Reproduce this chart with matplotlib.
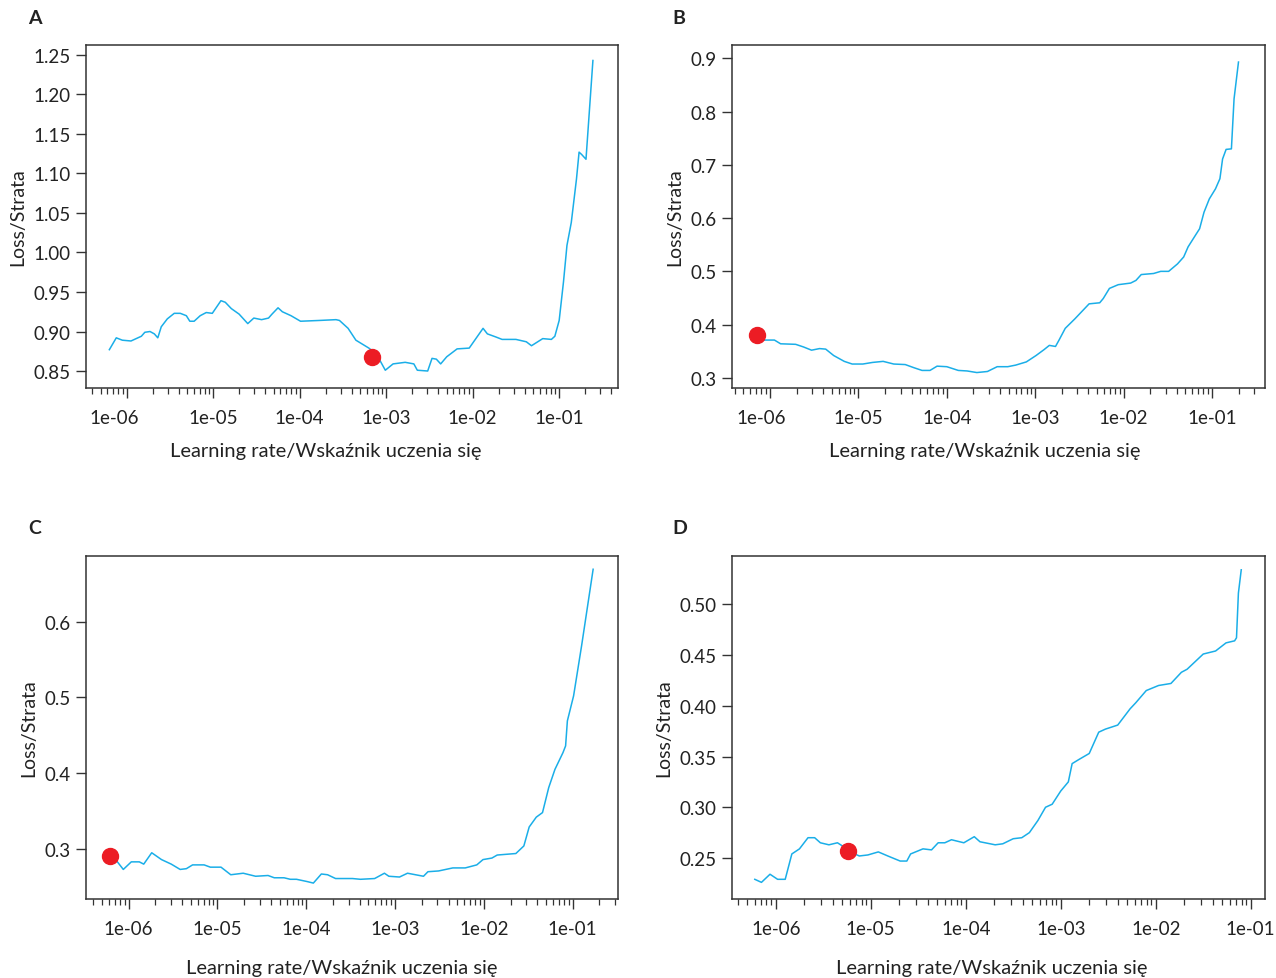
import numpy as np
import matplotlib
matplotlib.use("Agg")
import matplotlib.pyplot as plt
import matplotlib.transforms as mtransforms
from matplotlib.ticker import LogLocator, FixedLocator, FixedFormatter, NullFormatter

plt.rcParams['font.family'] = ['Lato', 'DejaVu Sans']

# Panel A: log10(learning rate) and loss
a_loglr = [-6.20, -6.12, -6.05, -5.95, -5.83, -5.79, -5.73, -5.68, -5.64, -5.60,
           -5.53, -5.45, -5.38, -5.31, -5.27, -5.22, -5.15, -5.08, -5.01, -4.96,
           -4.91, -4.86, -4.79, -4.70, -4.60, -4.53, -4.44, -4.36, -4.32, -4.25,
           -4.20, -4.10, -3.99, -3.77, -3.58, -3.54, -3.44, -3.35, -3.20, -3.11,
           -3.01, -2.92, -2.78, -2.68, -2.64, -2.52, -2.47, -2.42, -2.37, -2.30,
           -2.18, -2.04, -1.88, -1.83, -1.73, -1.66, -1.50, -1.38, -1.32, -1.19,
           -1.09, -1.05, -1.00, -0.95, -0.91, -0.86, -0.80, -0.77, -0.74, -0.69, -0.61]
a_loss = [0.877, 0.892, 0.889, 0.888, 0.894, 0.899, 0.900, 0.897, 0.892, 0.906,
          0.916, 0.923, 0.923, 0.920, 0.913, 0.913, 0.920, 0.924, 0.923, 0.931,
          0.939, 0.937, 0.929, 0.922, 0.910, 0.917, 0.915, 0.917, 0.922, 0.930,
          0.925, 0.920, 0.913, 0.914, 0.915, 0.914, 0.904, 0.889, 0.879, 0.871,
          0.851, 0.859, 0.861, 0.859, 0.851, 0.850, 0.866, 0.865, 0.859, 0.868,
          0.878, 0.879, 0.904, 0.897, 0.893, 0.890, 0.890, 0.887, 0.882, 0.891,
          0.890, 0.894, 0.914, 0.963, 1.009, 1.038, 1.093, 1.127, 1.124, 1.118, 1.243]
a_point = (-3.16, 0.868)

# Panel B
b_loglr = [-6.15, -6.11, -5.95, -5.88, -5.71, -5.62, -5.53, -5.44, -5.37, -5.28,
           -5.16, -5.07, -4.95, -4.84, -4.72, -4.60, -4.47, -4.37, -4.28, -4.19,
           -4.11, -4.00, -3.87, -3.77, -3.66, -3.54, -3.43, -3.31, -3.22, -3.10,
           -2.99, -2.90, -2.84, -2.77, -2.73, -2.66, -2.55, -2.39, -2.27, -2.23,
           -2.16, -2.06, -1.92, -1.86, -1.80, -1.66, -1.58, -1.49, -1.39, -1.32,
           -1.27, -1.19, -1.14, -1.09, -1.03, -0.96, -0.91, -0.88, -0.84, -0.78,
           -0.75, -0.70]
b_loss = [0.380, 0.371, 0.371, 0.364, 0.363, 0.358, 0.352, 0.355, 0.354, 0.342,
          0.331, 0.326, 0.326, 0.329, 0.331, 0.326, 0.325, 0.319, 0.314, 0.314,
          0.322, 0.321, 0.314, 0.313, 0.310, 0.312, 0.321, 0.321, 0.324, 0.330,
          0.342, 0.353, 0.361, 0.359, 0.371, 0.393, 0.411, 0.439, 0.441, 0.449,
          0.468, 0.475, 0.478, 0.483, 0.494, 0.496, 0.500, 0.500, 0.514, 0.527,
          0.546, 0.567, 0.580, 0.611, 0.636, 0.655, 0.674, 0.711, 0.729, 0.730,
          0.824, 0.893]
b_point = (-6.15, 0.380)

# Panel C
c_loglr = [-6.21, -6.14, -6.06, -5.97, -5.88, -5.83, -5.74, -5.63, -5.52, -5.42,
           -5.35, -5.28, -5.15, -5.08, -4.96, -4.85, -4.71, -4.57, -4.43, -4.36,
           -4.25, -4.18, -4.11, -3.99, -3.92, -3.83, -3.76, -3.67, -3.48, -3.39,
           -3.23, -3.12, -3.07, -2.95, -2.86, -2.77, -2.68, -2.63, -2.51, -2.35,
           -2.21, -2.08, -2.01, -1.91, -1.85, -1.64, -1.55, -1.49, -1.41, -1.34,
           -1.27, -1.20, -1.11, -1.08, -1.06, -0.99, -0.90, -0.77]
c_loss = [0.291, 0.285, 0.273, 0.283, 0.283, 0.280, 0.295, 0.286, 0.280, 0.273,
          0.274, 0.279, 0.279, 0.276, 0.276, 0.266, 0.268, 0.264, 0.265, 0.262,
          0.262, 0.260, 0.260, 0.257, 0.255, 0.267, 0.266, 0.261, 0.261, 0.260,
          0.261, 0.268, 0.264, 0.263, 0.268, 0.266, 0.264, 0.270, 0.271, 0.275,
          0.275, 0.279, 0.286, 0.288, 0.292, 0.294, 0.304, 0.329, 0.342, 0.348,
          0.381, 0.405, 0.427, 0.436, 0.469, 0.502, 0.568, 0.669]
c_point = (-6.21, 0.291)

# Panel D
d_loglr = [-6.22, -6.15, -6.06, -5.98, -5.90, -5.83, -5.75, -5.66, -5.59, -5.53,
           -5.44, -5.35, -5.30, -5.24, -5.12, -5.03, -4.92, -4.82, -4.69, -4.62,
           -4.58, -4.45, -4.36, -4.29, -4.22, -4.15, -4.02, -3.91, -3.85, -3.69,
           -3.61, -3.50, -3.41, -3.33, -3.24, -3.16, -3.09, -3.00, -2.92, -2.88,
           -2.81, -2.70, -2.60, -2.53, -2.40, -2.27, -2.21, -2.10, -1.97, -1.84,
           -1.73, -1.67, -1.50, -1.37, -1.26, -1.17, -1.15, -1.13, -1.10]
d_loss = [0.229, 0.226, 0.234, 0.229, 0.229, 0.254, 0.259, 0.270, 0.270, 0.265,
          0.263, 0.265, 0.262, 0.257, 0.252, 0.253, 0.256, 0.252, 0.247, 0.247,
          0.254, 0.259, 0.258, 0.265, 0.265, 0.268, 0.265, 0.271, 0.266, 0.263,
          0.264, 0.269, 0.270, 0.275, 0.287, 0.300, 0.303, 0.316, 0.325, 0.343,
          0.347, 0.353, 0.374, 0.377, 0.381, 0.397, 0.403, 0.415, 0.420, 0.422,
          0.433, 0.436, 0.451, 0.454, 0.462, 0.464, 0.467, 0.511, 0.534]
d_point = (-5.24, 0.257)

panels = [
    ('A', a_loglr, a_loss, a_point, (-6.47, -0.32), (0.8285, 1.2626),
     [0.85, 0.90, 0.95, 1.00, 1.05, 1.10, 1.15, 1.20, 1.25], '{:.2f}'),
    ('B', b_loglr, b_loss, b_point, (-6.43, -0.40), (0.281, 0.925),
     [0.3, 0.4, 0.5, 0.6, 0.7, 0.8, 0.9], '{:.1f}'),
    ('C', c_loglr, c_loss, c_point, (-6.48, -0.49), (0.234, 0.6865),
     [0.3, 0.4, 0.5, 0.6], '{:.1f}'),
    ('D', d_loglr, d_loss, d_point, (-6.46, -0.85), (0.2096, 0.5476),
     [0.25, 0.30, 0.35, 0.40, 0.45, 0.50], '{:.2f}'),
]

W, H = 1276, 979
boxes = [(86, 46, 618, 389), (732, 46, 1265, 389),
         (86, 557, 618, 900), (732, 557, 1265, 900)]
letters = [(28, 19), (672, 19), (28, 529), (672, 529)]
# the first x label sits a little left of its tick in the top panels
first_label_shift = [-12, -9, 0, 0]
# x-axis title centres (pixels) as placed in the original figure
xlabel_centres = [(326, 452), (985, 452), (342, 969), (992, 969)]

line_color = '#1aaee8'
dot_color = '#ec1c24'
axis_color = '#333333'
xtick_exp = [-6, -5, -4, -3, -2, -1]
xtick_labels = ['1e-06', '1e-05', '1e-04', '1e-03', '1e-02', '1e-01']

fig = plt.figure(figsize=(W / 100, H / 100), dpi=100)

for (name, lx, ly, pt, xl, yl, yticks, fmt), (x0, y0, x1, y1), (tx, ty), shift, (cx, cy) in zip(
        panels, boxes, letters, first_label_shift, xlabel_centres):
    ax = fig.add_axes([x0 / W, 1 - y1 / H, (x1 - x0) / W, (y1 - y0) / H])
    lr = 10 ** np.array(lx)
    ax.plot(lr, ly, color=line_color, lw=1.1)
    ax.plot(10 ** pt[0], pt[1], 'o', color=dot_color, markersize=11.5, zorder=3)
    ax.set_xscale('log')
    ax.set_xlim(10 ** xl[0], 10 ** xl[1])
    ax.set_ylim(*yl)
    ax.xaxis.set_major_locator(FixedLocator([10.0 ** e for e in xtick_exp]))
    ax.xaxis.set_major_formatter(FixedFormatter(xtick_labels))
    ax.xaxis.set_minor_locator(LogLocator(base=10, subs=np.arange(2, 10), numticks=20))
    ax.xaxis.set_minor_formatter(NullFormatter())
    ax.set_yticks(yticks)
    ax.set_yticklabels([fmt.format(v) for v in yticks])
    ax.tick_params(axis='both', which='major', direction='out', length=7, width=1,
                   color=axis_color, labelsize=13.5, labelcolor='#222222', pad=4)
    ax.tick_params(axis='x', which='major', pad=8)
    ax.tick_params(axis='x', which='minor', direction='out', length=4, width=0.9, color=axis_color)
    for s in ax.spines.values():
        s.set_color(axis_color)
        s.set_linewidth(1.1)
    if shift:
        lbl = ax.get_xticklabels()[0]
        lbl.set_transform(lbl.get_transform() +
                          mtransforms.ScaledTranslation(shift / 100, 0, fig.dpi_scale_trans))
    ax.set_xlabel('Learning rate/Wskaźnik uczenia się', fontsize=14.5, color='#222222')
    ax.xaxis.label.set_verticalalignment('center')
    ax.xaxis.set_label_coords((cx - x0) / (x1 - x0), -(cy - y1) / (y1 - y0))
    ax.set_ylabel('Loss/Strata', fontsize=14, color='#222222', labelpad=5)
    fig.text(tx / W, 1 - ty / H, name, fontsize=14, fontweight='bold', ha='left', va='center',
             color='#222222')

fig.savefig('out.png', dpi=100)
